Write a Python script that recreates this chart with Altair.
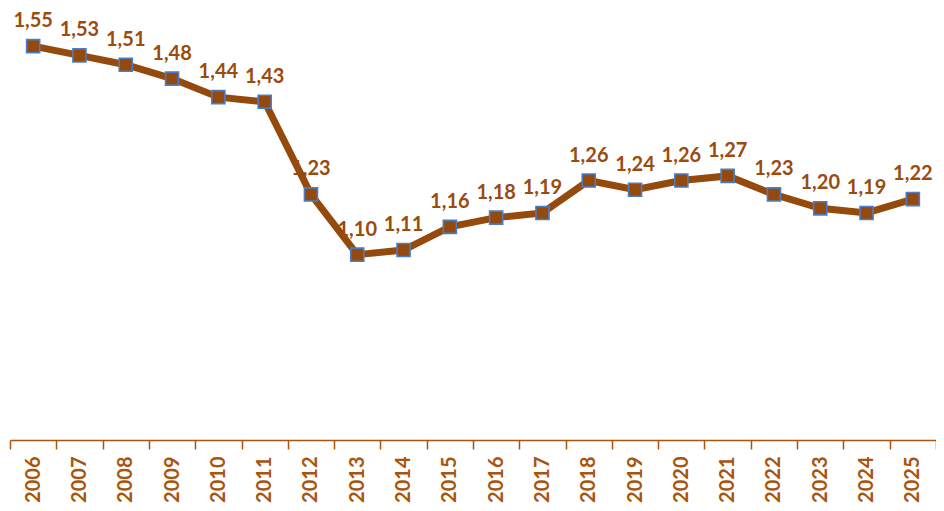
import altair as alt
import pandas as pd

years = [str(y) for y in range(2006, 2026)]
values = [1.55, 1.53, 1.51, 1.48, 1.44, 1.43, 1.23, 1.10, 1.11, 1.16,
          1.18, 1.19, 1.26, 1.24, 1.26, 1.27, 1.23, 1.20, 1.19, 1.22]
labels = [f"{v:.2f}".replace(".", ",") for v in values]

df = pd.DataFrame({"year": years, "value": values, "label": labels})

LINE = "#944A0C"
TEXT = "#9A4B0E"
AXIS = "#A9550F"

x = alt.X(
    "year:O",
    sort=years,
    bandPosition=0.5,
    scale=alt.Scale(type="band", paddingInner=0, paddingOuter=0),
    axis=alt.Axis(
        title=None,
        labelAngle=-90,
        labelFont="Lato",
        labelFontWeight="bold",
        labelFontSize=20,
        labelColor=AXIS,
        labelPadding=7,
        labelAlign="right",
        labelBaseline="middle",
        domainColor=AXIS,
        domainWidth=1.5,
        tickColor=AXIS,
        tickWidth=1.5,
        tickSize=9,
        tickBand="extent",
        grid=False,
    ),
)
y = alt.Y("value:Q", scale=alt.Scale(domain=[0.7, 1.6], zero=False, nice=False), axis=None)

base = alt.Chart(df).encode(x=x, y=y)

line = base.mark_line(color=LINE, strokeWidth=7)
pts = base.mark_point(shape="square", filled=True, size=170, fill=LINE,
                      stroke="#4A7CC9", strokeWidth=1.6, opacity=1)
txt = base.mark_text(dy=-25, font="Lato", fontWeight="bold", fontSize=20,
                     color=TEXT).encode(text="label:N")

chart = alt.layer(line, pts, txt).properties(
    width=926, height=417,
    autosize=alt.AutoSizeParams(type="none"),
    padding={"left": 2, "top": 15, "right": 0, "bottom": 63},
).configure_view(stroke=None)

chart.save("out.html", embed_options={"renderer": "svg", "actions": False})
